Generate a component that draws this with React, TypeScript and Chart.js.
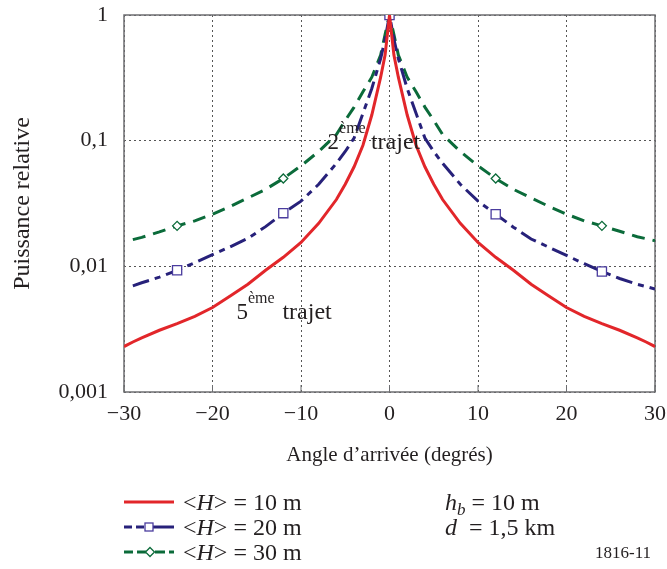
import React, { useEffect, useRef } from 'react';
import { Chart, registerables } from 'chart.js';

Chart.register(...registerables);

// ---- data ----
const angles = [-30, -29, -28, -26, -24, -22, -20, -18, -16, -14, -12, -10, -8, -6, -5, -4, -3, -2, -1, -0.5, 0,
  0.5, 1, 2, 3, 4, 5, 6, 8, 10, 12, 14, 16, 18, 20, 22, 24, 26, 28, 29, 30];

const power10 = [0.0023, 0.0025, 0.0027, 0.0031, 0.0035, 0.0040, 0.0047, 0.0058, 0.0072, 0.0093, 0.0118, 0.0155, 0.022, 0.034, 0.045, 0.062, 0.092, 0.16, 0.32, 0.48, 1,
  0.48, 0.32, 0.16, 0.092, 0.062, 0.045, 0.034, 0.022, 0.0155, 0.0118, 0.0093, 0.0072, 0.0058, 0.0047, 0.0040, 0.0035, 0.0031, 0.0027, 0.0025, 0.0023];

const power20 = [null, 0.0070, 0.0074, 0.0082, 0.0093, 0.0107, 0.0124, 0.0143, 0.0167, 0.0207, 0.0265, 0.033, 0.045, 0.066, 0.082, 0.105, 0.165, 0.26, 0.45, 0.64, 1,
  0.64, 0.45, 0.26, 0.165, 0.105, 0.082, 0.066, 0.045, 0.033, 0.026, 0.0205, 0.0165, 0.0142, 0.0122, 0.0105, 0.0091, 0.0080, 0.0072, 0.0069, 0.0066];

const power30 = [null, 0.0163, 0.0170, 0.0188, 0.021, 0.023, 0.026, 0.030, 0.035, 0.041, 0.050, 0.063, 0.082, 0.112, 0.145, 0.185, 0.245, 0.32, 0.48, 0.7, 1,
  0.7, 0.48, 0.32, 0.245, 0.185, 0.145, 0.112, 0.082, 0.063, 0.050, 0.041, 0.035, 0.030, 0.026, 0.023, 0.021, 0.019, 0.0172, 0.0166, 0.016];

const markerAngles = [-24, -12, 0, 12, 24];

const xTickValues = [-30, -20, -10, 0, 10, 20, 30];
const xTickLabels = ['−30', '−20', '−10', '0', '10', '20', '30'];
const yTickValues = [0.001, 0.01, 0.1, 1];
const yTickLabels = ['0,001', '0,01', '0,1', '1'];

const xTitle = 'Angle d’arrivée (degrés)';
const yTitle = 'Puissance relative';
const seriesValues = ['10 m', '20 m', '30 m'];
const paramLines = [['h', 'b', ' = 10 m'], ['d', '', '  = 1,5 km']];
const figureId = '1816-11';

const SERIF = "'Liberation Serif', 'Times New Roman', serif";
const TEXT = '#231f20';
const RED = '#e2262a';
const BLUE = '#27217a';
const BLUE_MK = '#4a3c9e';
const GREEN = '#0b6b3a';

function toPoints(values: (number | null)[]) {
  const pts: { x: number; y: number }[] = [];
  angles.forEach((a, i) => {
    const v = values[i];
    if (v !== null && v !== undefined) pts.push({ x: a, y: v });
  });
  return pts;
}

function markerRadius(r: number) {
  return (ctx: any) => (ctx.raw && markerAngles.includes(ctx.raw.x) ? r : 0);
}

function drawParts(ctx: CanvasRenderingContext2D, x: number, y: number, parts: [string, boolean, number, number][]) {
  let cx = x;
  parts.forEach(([t, it, size, dy]) => {
    ctx.font = `${it ? 'italic ' : ''}${size}px ${SERIF}`;
    ctx.fillText(t, cx, y + dy);
    cx += ctx.measureText(t).width;
  });
}

function drawSquare(ctx: CanvasRenderingContext2D, x: number, y: number, r: number, color: string) {
  ctx.save();
  ctx.setLineDash([]);
  ctx.fillStyle = '#fff';
  ctx.strokeStyle = color;
  ctx.lineWidth = 1.3;
  ctx.fillRect(x - r, y - r, 2 * r, 2 * r);
  ctx.strokeRect(x - r, y - r, 2 * r, 2 * r);
  ctx.restore();
}

function drawDiamond(ctx: CanvasRenderingContext2D, x: number, y: number, r: number, color: string) {
  ctx.save();
  ctx.setLineDash([]);
  ctx.fillStyle = '#fff';
  ctx.strokeStyle = color;
  ctx.lineWidth = 1.3;
  ctx.beginPath();
  ctx.moveTo(x, y - r);
  ctx.lineTo(x + r, y);
  ctx.lineTo(x, y + r);
  ctx.lineTo(x - r, y);
  ctx.closePath();
  ctx.fill();
  ctx.stroke();
  ctx.restore();
}

function seg(ctx: CanvasRenderingContext2D, x1: number, x2: number, y: number) {
  ctx.beginPath();
  ctx.moveTo(x1, y);
  ctx.lineTo(x2, y);
  ctx.stroke();
}

const decor = {
  id: 'decor',
  beforeDatasetsDraw(chart: any) {
    const { ctx, chartArea } = chart;
    const { left, top, right, bottom } = chartArea;
    ctx.save();
    ctx.setLineDash([]);
    ctx.strokeStyle = '#6d6e71';
    ctx.lineWidth = 1.5;
    ctx.strokeRect(left, top, right - left, bottom - top);
    ctx.lineWidth = 1;
    const xs = chart.scales.x;
    xTickValues.forEach((v) => {
      const px = xs.getPixelForValue(v);
      ctx.beginPath();
      ctx.moveTo(px, bottom);
      ctx.lineTo(px, bottom - 7);
      ctx.stroke();
    });
    ctx.restore();
  },
  afterDraw(chart: any) {
    const { ctx } = chart;
    const xs = chart.scales.x;
    const ys = chart.scales.y;
    ctx.save();
    ctx.fillStyle = TEXT;
    ctx.textBaseline = 'alphabetic';
    ctx.textAlign = 'left';

    // "2ème trajet"
    const a2x = xs.getPixelForValue(-7.0);
    const a2y = ys.getPixelForValue(0.1) + 8;
    drawParts(ctx, a2x, a2y, [['2', false, 23, 0], ['ème', false, 16, -16]]);
    drawParts(ctx, xs.getPixelForValue(-2.1), a2y, [['trajet', false, 24, 0]]);

    // "5ème trajet"
    const a5x = xs.getPixelForValue(-17.3);
    const a5y = ys.getPixelForValue(0.00378);
    drawParts(ctx, a5x, a5y, [['5', false, 23, 0], ['ème', false, 16, -16]]);
    drawParts(ctx, xs.getPixelForValue(-12.1), a5y, [['trajet', false, 24, 0]]);

    // legend
    const lx1 = 124, lx2 = 174, tx = 183;
    const rows = [502, 527, 552];
    ctx.lineCap = 'butt';
    ctx.lineWidth = 3;
    // red
    ctx.strokeStyle = RED;
    ctx.setLineDash([]);
    seg(ctx, lx1, lx2, rows[0]);
    // blue
    ctx.strokeStyle = BLUE;
    seg(ctx, lx1, lx1 + 8, rows[1]);
    seg(ctx, lx1 + 12, lx1 + 20, rows[1]);
    seg(ctx, lx1 + 29, lx2, rows[1]);
    drawSquare(ctx, lx1 + 25, rows[1], 4, BLUE_MK);
    // green
    ctx.strokeStyle = GREEN;
    seg(ctx, lx1, lx1 + 9, rows[2]);
    seg(ctx, lx1 + 13, lx1 + 22, rows[2]);
    seg(ctx, lx1 + 31, lx1 + 41, rows[2]);
    seg(ctx, lx1 + 45, lx2, rows[2]);
    drawDiamond(ctx, lx1 + 26, rows[2], 4.5, GREEN);

    ctx.fillStyle = TEXT;
    seriesValues.forEach((v, i) => {
      drawParts(ctx, tx, rows[i] + 8, [['<', false, 24, 0], ['H', true, 24, 0], ['> = ' + v, false, 24, 0]]);
    });
    paramLines.forEach((p, i) => {
      const parts: [string, boolean, number, number][] = [[p[0], true, 24, 0]];
      if (p[1]) parts.push([p[1], true, 17, 5]);
      parts.push([p[2], false, 24, 0]);
      drawParts(ctx, 445, rows[i] + 8, parts);
    });
    ctx.textAlign = 'right';
    ctx.font = `17px ${SERIF}`;
    ctx.fillText(figureId, 651, rows[2] + 6);
    ctx.restore();
  },
};

export default function App() {
  const ref = useRef<HTMLCanvasElement | null>(null);
  useEffect(() => {
    if (!ref.current) return;
    const chart = new Chart(ref.current, {
      type: 'scatter',
      data: {
        datasets: [
          {
            label: '<H> = 10 m',
            data: toPoints(power10),
            showLine: true,
            borderColor: RED,
            backgroundColor: RED,
            borderWidth: 3,
            pointRadius: 0,
            tension: 0,
          },
          {
            label: '<H> = 20 m',
            data: toPoints(power20),
            showLine: true,
            borderColor: BLUE,
            borderWidth: 3,
            borderDash: [17, 6, 6, 6],
            pointStyle: 'rect',
            pointRadius: markerRadius(6.5),
            pointBackgroundColor: '#fff',
            pointBorderColor: BLUE_MK,
            pointBorderWidth: 1.3,
            tension: 0,
          },
          {
            label: '<H> = 30 m',
            data: toPoints(power30),
            showLine: true,
            borderColor: GREEN,
            borderWidth: 3,
            borderDash: [13, 8],
            pointStyle: 'rectRot',
            pointRadius: markerRadius(4.5),
            pointBackgroundColor: '#fff',
            pointBorderColor: GREEN,
            pointBorderWidth: 1.3,
            tension: 0,
          },
        ],
      },
      options: {
        animation: false,
        responsive: false,
        devicePixelRatio: 1,
        layout: { padding: { left: 0, right: 12, top: 15, bottom: 97 } },
        plugins: { legend: { display: false }, tooltip: { enabled: false } },
        scales: {
          x: {
            type: 'linear',
            min: -30,
            max: 30,
            afterBuildTicks: (s: any) => {
              s.ticks = xTickValues.map((v) => ({ value: v }));
            },
            afterFit: (s: any) => {
              s.height = 80;
              s.paddingLeft = 0;
              s.paddingRight = 0;
            },
            ticks: {
              padding: 9,
              color: TEXT,
              font: { family: SERIF, size: 22 },
              maxRotation: 0,
              callback: (v: any) => {
                const i = xTickValues.indexOf(Number(v));
                return i >= 0 ? xTickLabels[i] : '';
              },
            },
            grid: { color: '#555', lineWidth: 1, drawTicks: false },
            border: { display: false, dash: [2, 3] },
            title: {
              display: true,
              text: xTitle,
              color: TEXT,
              font: { family: SERIF, size: 21 },
              padding: { top: 4, bottom: 4 },
            },
          },
          y: {
            type: 'logarithmic',
            min: 0.001,
            max: 1,
            afterBuildTicks: (s: any) => {
              s.ticks = yTickValues.map((v) => ({ value: v }));
            },
            afterFit: (s: any) => {
              s.width = 124;
              s.paddingTop = 0;
              s.paddingBottom = 0;
            },
            ticks: {
              padding: 16,
              color: TEXT,
              font: { family: SERIF, size: 22 },
              callback: (v: any) => {
                const i = yTickValues.findIndex((t) => Math.abs(t - Number(v)) < t * 1e-6);
                return i >= 0 ? yTickLabels[i] : '';
              },
            },
            grid: { color: '#555', lineWidth: 1, drawTicks: false },
            border: { display: false, dash: [2, 3] },
            title: {
              display: true,
              text: yTitle,
              color: TEXT,
              font: { family: SERIF, size: 24 },
              padding: { top: 8, bottom: 4 },
            },
          },
        },
      },
      plugins: [decor],
    });
    return () => chart.destroy();
  }, []);
  return (
    <div style={{ position: 'fixed', left: 0, top: 0, width: 667, height: 569, background: '#fff' }}>
      <canvas ref={ref} width={667} height={569} style={{ display: 'block' }} />
    </div>
  );
}
